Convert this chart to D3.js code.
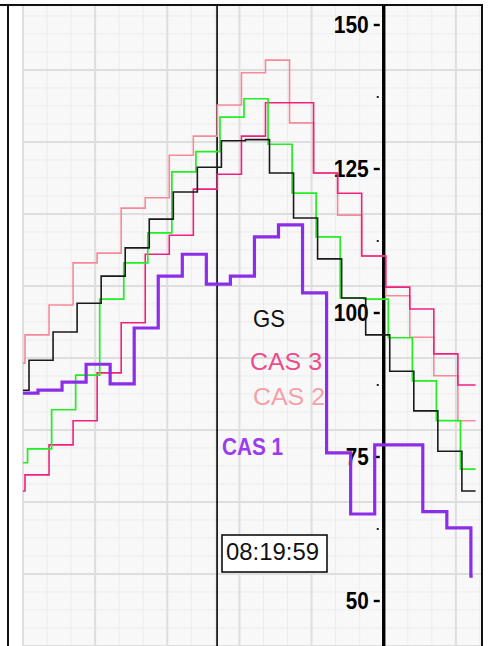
<!DOCTYPE html>
<html>
<head>
<meta charset="utf-8">
<script src="https://cdn.jsdelivr.net/npm/d3@7"></script>
<style>
  html, body { margin: 0; padding: 0; background: #ffffff; }
  svg { display: block; }
  text { font-family: "Liberation Sans", Arial, sans-serif; }
</style>
</head>
<body>
<svg id="chart" width="489" height="646"></svg>
<script>
// ---- data ----
const gsValues    = [86.6, 91.8, 96.7, 101.7, 106.4, 111.3, 116.3, 121.0, 125.3, 129.9, 130.1, 124.3, 116.5, 109.4, 102.6, 96.2, 89.9, 83.0, 76.0, 69.1];
const greenValues = [74.0, 76.4, 83.2, 89.2, 102.4, 108.7, 113.9, 124.5, 128.0, 134.0, 137.2, 129.3, 120.8, 113.2, 102.6, 102.4, 95.7, 88.2, 81.3, 72.9];
const cas3Values  = [69.1, 71.9, 77.1, 81.3, 89.6, 98.3, 110.2, 113.5, 121.5, 124.1, 130.7, 136.5, 136.5, 124.3, 120.8, 109.9, 104.5, 100.7, 92.9, 87.5];
const cas2Values  = [91.3, 96.2, 101.4, 108.7, 110.4, 118.2, 120.0, 127.4, 130.7, 136.1, 141.7, 143.9, 133.0, 124.3, 117.0, 109.9, 103.0, 95.8, 89.1, 81.3];
const cas1Values  = [86.1, 86.6, 88.0, 91.1, 87.7, 97.4, 106.4, 110.2, 105.0, 106.4, 113.2, 115.3, 103.5, 75.7, 65.1, 77.1, 77.1, 65.5, 62.7, 54.3];
// sample phase of each series (in sample units)
const phases = { gs: 0.25, green: 0.19, cas3: 0.083, cas2: 0.083, cas1: 0.624 };
const yTickValues = [50, 75, 100, 125, 150];
const yMinorTicks = [62.5, 87.5, 112.5, 137.5];
const legendLabels = ["GS", "CAS 3", "CAS 2", "CAS 1"];
const cursorLabel = "08:19:59";
const cursorT = 8.07;
const axisT = 15;
const tEnd = 18.82;

// ---- scales ----
const x = d3.scaleLinear().domain([0, tEnd]).range([23, 475.6]);
const y = d3.scaleLinear().domain([50, 150]).range([601, 25]);

const svg = d3.select("#chart");

// plot background
svg.append("rect").attr("x", 23).attr("y", 6).attr("width", 458).attr("height", 640).attr("fill", "#f8f8f8");

// grid
const gMinor = svg.append("g").attr("stroke", "#ececec").attr("stroke-width", 1);
const gMajor = svg.append("g").attr("stroke", "#dedede").attr("stroke-width", 2);
const vMinor = d3.range(0, 19.5, 1);
const vMajor = d3.range(0, 19.5, 3);
vMinor.forEach(t => gMinor.append("line").attr("x1", x(t)).attr("x2", x(t)).attr("y1", 6).attr("y2", 646));
vMajor.forEach(t => gMajor.append("line").attr("x1", x(t)).attr("x2", x(t)).attr("y1", 6).attr("y2", 646));
const hMajor = d3.range(0, 9).map(k => 142.2 - 12.5 * k);
const hMinor = d3.range(-4, 36).map(k => 142.2 - 3.125 * k);
hMinor.forEach(v => gMinor.append("line").attr("x1", 23).attr("x2", 481).attr("y1", y(v)).attr("y2", y(v)));
hMajor.forEach(v => gMajor.append("line").attr("x1", 23).attr("x2", 481).attr("y1", y(v)).attr("y2", y(v)));

// frame
svg.append("line").attr("x1", 0).attr("x2", 483).attr("y1", 5).attr("y2", 5).attr("stroke", "#111").attr("stroke-width", 2);
svg.append("line").attr("x1", 8).attr("x2", 8).attr("y1", 5).attr("y2", 646).attr("stroke", "#111").attr("stroke-width", 2);
svg.append("line").attr("x1", 482).attr("x2", 482).attr("y1", 5).attr("y2", 646).attr("stroke", "#111").attr("stroke-width", 2);

// cursor and axis lines
svg.append("line").attr("x1", x(cursorT)).attr("x2", x(cursorT)).attr("y1", 5).attr("y2", 646).attr("stroke", "#000").attr("stroke-width", 1.6);
svg.append("line").attr("x1", x(axisT)).attr("x2", x(axisT)).attr("y1", 5).attr("y2", 646).attr("stroke", "#000").attr("stroke-width", 3.4);

// y axis labels + ticks
const axX = x(axisT);
const gAx = svg.append("g");
yTickValues.forEach(v => {
  const s = String(v);
  gAx.append("text").attr("x", axX - 15).attr("y", y(v) + 8.3)
    .attr("text-anchor", "end").attr("font-size", 24).attr("font-weight", "bold")
    .attr("textLength", s.length === 3 ? 35 : 23).attr("lengthAdjust", "spacingAndGlyphs")
    .attr("fill", "#000").text(s);
  gAx.append("line").attr("x1", axX - 10).attr("x2", axX - 4).attr("y1", y(v)).attr("y2", y(v))
    .attr("stroke", "#000").attr("stroke-width", 2.4);
});
yMinorTicks.forEach(v => {
  gAx.append("rect").attr("x", axX - 7).attr("y", y(v) - 1).attr("width", 2).attr("height", 2).attr("fill", "#222");
});

// legend labels
const labelSpecs = [
  { text: legendLabels[0], x: 253, y: 327, len: 32, color: "#111111", weight: "normal" },
  { text: legendLabels[1], x: 250, y: 370, len: 72, color: "#ef4a8a", weight: "normal" },
  { text: legendLabels[2], x: 253, y: 405, len: 72, color: "#f6a0a8", weight: "normal" },
  { text: legendLabels[3], x: 222, y: 455, len: 61, color: "#9a3cec", weight: "bold" }
];
labelSpecs.forEach(d => {
  svg.append("text").attr("x", d.x).attr("y", d.y).attr("font-size", 24).attr("font-weight", d.weight)
    .attr("textLength", d.len).attr("lengthAdjust", "spacingAndGlyphs").attr("fill", d.color).text(d.text);
});

// series
function stepPoints(values, phase, end) {
  const pts = [[0, values[0]]];
  for (let k = 1; k < values.length; k++) pts.push([phase + k - 1, values[k]]);
  pts.push([end, values[values.length - 1]]);
  return pts;
}
const line = d3.line().x(d => x(d[0])).y(d => y(d[1])).curve(d3.curveStepAfter);
const series = [
  { values: cas2Values, phase: phases.cas2, color: "#f58a9a", width: 1.6, end: tEnd },
  { values: cas3Values, phase: phases.cas3, color: "#f0207c", width: 1.6, end: tEnd },
  { values: greenValues, phase: phases.green, color: "#22ee22", width: 1.7, end: tEnd },
  { values: gsValues, phase: phases.gs, color: "#1a1a1a", width: 1.6, end: tEnd },
  { values: cas1Values, phase: phases.cas1, color: "#8c2ee8", width: 3.2, end: 18.7 }
];
series.forEach(s => {
  svg.append("path").attr("d", line(stepPoints(s.values, s.phase, s.end)))
    .attr("fill", "none").attr("stroke", s.color).attr("stroke-width", s.width)
    .attr("stroke-linejoin", "miter").attr("stroke-linecap", "butt");
});

// cursor time box
svg.append("rect").attr("x", 222).attr("y", 535).attr("width", 105).attr("height", 37)
  .attr("fill", "#fff").attr("stroke", "#000").attr("stroke-width", 1.5);
svg.append("text").attr("x", 226).attr("y", 560).attr("font-size", 24)
  .attr("textLength", 93).attr("lengthAdjust", "spacingAndGlyphs").attr("fill", "#111").text(cursorLabel);
</script>
</body>
</html>
